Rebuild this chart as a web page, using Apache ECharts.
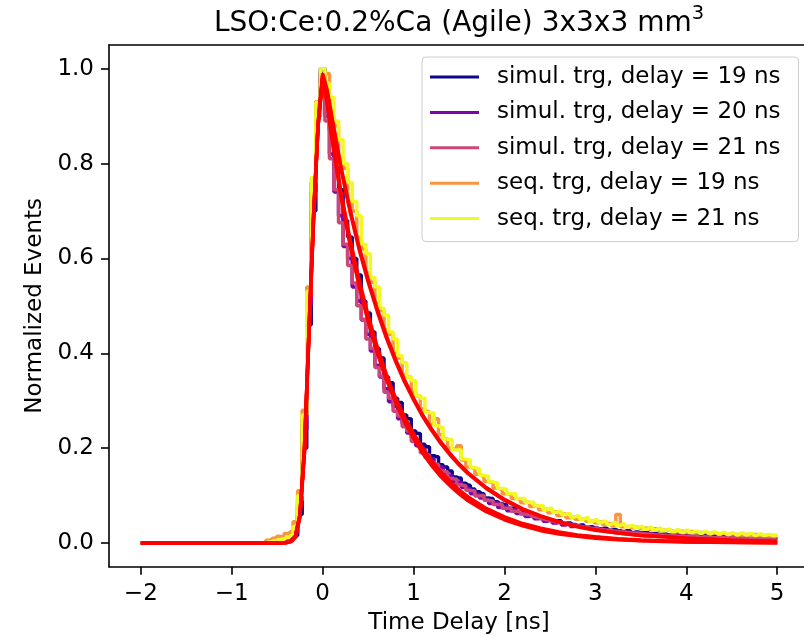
<!DOCTYPE html>
<html><head><meta charset="utf-8">
<script src="https://cdn.jsdelivr.net/npm/echarts@6/dist/echarts.min.js"></script>
<style>html,body{margin:0;padding:0;background:#fff}#c{width:804px;height:636px}</style>
</head><body><div id="c"></div>
<script>
// histogram bin centres (ns)
const xBins = [-2.0, -0.65,
 -0.6,-0.55,-0.5,-0.45,-0.4,-0.35,-0.3,-0.25,-0.2,-0.15,
 -0.1,-0.05,0.0,0.05,0.1,0.15,0.2,0.25,0.3,0.35,
 0.4,0.45,0.5,0.55,0.6,0.65,0.7,0.75,0.8,0.85,
 0.9,0.95,1.0,1.05,1.1,1.15,1.2,1.25,1.3,1.35,
 1.4,1.45,1.5,1.55,1.6,1.65,1.7,1.75,1.8,1.85,
 1.9,1.95,2.0,2.05,2.1,2.15,2.2,2.25,2.3,2.35,
 2.4,2.45,2.5,2.55,2.6,2.65,2.7,2.75,2.8,2.85,
 2.9,2.95,3.0,3.05,3.1,3.15,3.2,3.25,3.3,3.35,
 3.4,3.45,3.5,3.55,3.6,3.65,3.7,3.75,3.8,3.85,
 3.9,3.95,4.0,4.05,4.1,4.15,4.2,4.25,4.3,4.35,
 4.4,4.45,4.5,4.55,4.6,4.65,4.7,4.75,4.8,4.85,
 4.9,4.95,5.0];

const simul19 = [0, 0,
 0,0,0.001,0.002,0.003,0.005,0.015,0.06,0.2,0.46,
 0.7,0.9,1.0,0.94,0.87,0.79,0.745,0.68,0.645,0.6,
 0.565,0.51,0.485,0.445,0.41,0.39,0.35,0.338,0.305,0.296,
 0.27,0.262,0.236,0.231,0.208,0.203,0.184,0.182,0.165,0.16,
 0.152,0.139,0.137,0.126,0.122,0.114,0.108,0.104,0.095,0.094,
 0.087,0.083,0.081,0.073,0.074,0.066,0.069,0.061,0.059,0.057,
 0.053,0.051,0.049,0.046,0.047,0.041,0.042,0.039,0.037,0.038,
 0.033,0.034,0.031,0.03,0.031,0.027,0.028,0.026,0.024,0.026,
 0.022,0.023,0.021,0.022,0.019,0.02,0.018,0.019,0.017,0.016,
 0.017,0.015,0.016,0.014,0.015,0.013,0.015,0.012,0.014,0.012,
 0.013,0.011,0.013,0.011,0.012,0.01,0.012,0.011,0.01,0.011,
 0.01,0.009,0.011];

const simul20 = [0, 0,
 0,0,0.001,0.003,0.004,0.007,0.02,0.08,0.24,0.5,
 0.74,0.93,0.99,0.9,0.82,0.74,0.69,0.625,0.6,0.54,
 0.51,0.47,0.44,0.405,0.375,0.35,0.325,0.298,0.288,0.262,
 0.252,0.232,0.222,0.205,0.199,0.181,0.178,0.162,0.16,0.145,
 0.142,0.13,0.128,0.117,0.115,0.104,0.103,0.095,0.093,0.083,
 0.085,0.075,0.077,0.068,0.07,0.062,0.064,0.056,0.058,0.051,
 0.053,0.046,0.048,0.042,0.044,0.038,0.041,0.035,0.036,0.033,
 0.032,0.03,0.031,0.027,0.028,0.026,0.024,0.025,0.022,0.023,
 0.021,0.02,0.021,0.018,0.019,0.018,0.016,0.018,0.015,0.016,
 0.015,0.014,0.015,0.013,0.013,0.012,0.013,0.011,0.012,0.012,
 0.011,0.011,0.01,0.011,0.01,0.009,0.011,0.009,0.01,0.009,
 0.009,0.01,0.009];

const simul21 = [0, 0,
 0,0,0.002,0.002,0.005,0.008,0.024,0.09,0.26,0.52,
 0.76,0.93,0.98,0.89,0.81,0.745,0.675,0.63,0.585,0.548,
 0.5,0.472,0.43,0.41,0.37,0.352,0.318,0.305,0.278,0.268,
 0.245,0.236,0.214,0.21,0.19,0.186,0.17,0.166,0.152,0.15,
 0.136,0.135,0.123,0.121,0.111,0.11,0.099,0.1,0.09,0.089,
 0.081,0.082,0.073,0.074,0.067,0.067,0.061,0.06,0.056,0.054,
 0.051,0.049,0.047,0.045,0.043,0.041,0.039,0.038,0.036,0.034,
 0.033,0.031,0.03,0.029,0.027,0.027,0.025,0.024,0.023,0.022,
 0.021,0.021,0.019,0.019,0.018,0.017,0.017,0.016,0.015,0.016,
 0.014,0.015,0.013,0.014,0.013,0.012,0.013,0.012,0.011,0.012,
 0.011,0.01,0.011,0.01,0.01,0.01,0.009,0.01,0.009,0.009,
 0.009,0.009,0.008];

const seq19 = [0, 0,
 0.006,0.01,0.014,0.013,0.02,0.024,0.045,0.11,0.28,0.54,
 0.76,0.9,0.97,0.99,0.9,0.88,0.81,0.79,0.72,0.7,
 0.645,0.62,0.57,0.55,0.505,0.49,0.45,0.44,0.4,0.39,
 0.355,0.35,0.318,0.31,0.283,0.277,0.25,0.262,0.228,0.22,
 0.2,0.198,0.205,0.175,0.16,0.158,0.145,0.142,0.13,0.128,
 0.116,0.114,0.104,0.103,0.094,0.093,0.085,0.086,0.077,0.078,
 0.07,0.071,0.064,0.066,0.058,0.061,0.053,0.055,0.05,0.05,
 0.046,0.046,0.042,0.044,0.039,0.041,0.036,0.06,0.034,0.035,
 0.032,0.033,0.03,0.031,0.028,0.03,0.026,0.027,0.027,0.025,
 0.024,0.025,0.022,0.024,0.021,0.022,0.022,0.02,0.021,0.019,
 0.02,0.018,0.019,0.018,0.017,0.018,0.016,0.018,0.016,0.016,
 0.015,0.016,0.015];

const seq21 = [0, 0,
 0.002,0.004,0.006,0.008,0.012,0.016,0.035,0.1,0.27,0.53,
 0.77,0.93,1.0,0.97,0.94,0.89,0.85,0.8,0.76,0.72,
 0.69,0.63,0.61,0.56,0.54,0.495,0.48,0.445,0.43,0.395,
 0.38,0.35,0.342,0.31,0.305,0.275,0.274,0.247,0.244,0.219,
 0.218,0.196,0.196,0.177,0.175,0.159,0.157,0.143,0.141,0.129,
 0.127,0.115,0.114,0.104,0.104,0.094,0.094,0.086,0.086,0.078,
 0.079,0.07,0.073,0.065,0.067,0.06,0.062,0.055,0.057,0.05,
 0.053,0.046,0.049,0.043,0.046,0.039,0.043,0.037,0.04,0.034,
 0.037,0.032,0.035,0.029,0.033,0.028,0.031,0.026,0.029,0.024,
 0.028,0.023,0.027,0.022,0.025,0.021,0.024,0.02,0.023,0.019,
 0.022,0.018,0.021,0.017,0.021,0.017,0.02,0.016,0.019,0.016,
 0.018,0.015,0.017];

// fitted curves (red)
const fitX = [-2,-0.5,-0.4,-0.35,-0.3,-0.25,-0.2,-0.15,-0.1,-0.05,0,0.05,0.1,0.2,0.3,0.4,0.5,0.6,0.7,0.8,0.9,1.0,1.1,1.2,1.3,1.4,1.5,1.6,1.8,2.0,2.2,2.4,2.6,2.8,3.0,3.25,3.5,3.75,4.0,4.5,5.0];
const fitSimul19 = [0,0,0.001,0.003,0.012,0.055,0.19,0.44,0.68,0.88,0.985,0.935,0.86,0.736,0.634,0.546,0.47,0.403,0.347,0.299,0.257,0.221,0.19,0.163,0.14,0.121,0.104,0.089,0.066,0.049,0.036,0.026,0.019,0.014,0.01,0.007,0.0045,0.003,0.002,0.001,0.0005];
const fitSimul20 = [0,0,0.001,0.004,0.015,0.06,0.2,0.45,0.69,0.885,0.98,0.93,0.865,0.742,0.642,0.556,0.48,0.414,0.356,0.307,0.266,0.231,0.2,0.173,0.15,0.13,0.112,0.097,0.073,0.055,0.041,0.031,0.023,0.017,0.013,0.009,0.0065,0.0045,0.0032,0.0016,0.0008];
const fitSimul21 = [0,0,0.001,0.003,0.013,0.058,0.2,0.45,0.69,0.88,0.98,0.925,0.855,0.732,0.63,0.543,0.468,0.402,0.346,0.298,0.257,0.222,0.191,0.165,0.142,0.123,0.106,0.091,0.068,0.051,0.038,0.028,0.021,0.016,0.012,0.008,0.0055,0.004,0.0028,0.0014,0.0007];
const fitSeq19 = [0,0,0.001,0.004,0.014,0.06,0.2,0.45,0.69,0.885,0.985,0.95,0.897,0.79,0.7,0.62,0.551,0.489,0.433,0.384,0.34,0.302,0.267,0.237,0.21,0.186,0.165,0.146,0.115,0.09,0.071,0.056,0.044,0.034,0.027,0.021,0.016,0.013,0.01,0.006,0.003];
const fitSeq21 = [0,0,0.001,0.003,0.012,0.055,0.19,0.44,0.68,0.88,0.99,0.955,0.9,0.795,0.705,0.625,0.556,0.494,0.438,0.388,0.344,0.305,0.27,0.24,0.213,0.189,0.167,0.148,0.117,0.092,0.072,0.057,0.045,0.035,0.028,0.021,0.016,0.013,0.01,0.006,0.003];

const xTicks = [-2,-1,0,1,2,3,4,5];
const yTicks = [0,0.2,0.4,0.6,0.8,1.0];
const seriesNames = ['simul. trg, delay = 19 ns','simul. trg, delay = 20 ns','simul. trg, delay = 21 ns','seq. trg, delay = 19 ns','seq. trg, delay = 21 ns'];
const seriesColors = ['#0d0887','#7e03a8','#cc4778','#f89540','#f0f921'];
const histData = [simul19, simul20, simul21, seq19, seq21];
const fitData = [fitSimul19, fitSimul20, fitSimul21, fitSeq19, fitSeq21];

const FONT = 'DejaVu Sans';
const X_MIN = -2.35, X_MAX = 5.35;   // right part of the axes is cropped at the image edge
const pair = (xs, ys) => xs.map((x, i) => [x, ys[i]]);

const series = [];
histData.forEach((ys, i) => {
  series.push({
    type: 'line', name: seriesNames[i], data: pair(xBins, ys), step: 'middle',
    xAxisIndex: 0, yAxisIndex: 0,
    showSymbol: false, symbol: 'none', color: seriesColors[i],
    lineStyle: { width: 3.5, color: seriesColors[i] }, itemStyle: { color: seriesColors[i] },
    emphasis: { disabled: true }, silent: true
  });
});
fitData.forEach((ys, i) => {
  series.push({
    type: 'line', name: 'fit ' + i, data: pair(fitX, ys),
    xAxisIndex: 0, yAxisIndex: 0,
    showSymbol: false, symbol: 'none', color: '#ff0000',
    lineStyle: { width: 3.5, color: '#ff0000' },
    emphasis: { disabled: true }, silent: true
  });
});

const spine = { show: true, onZero: false, lineStyle: { color: '#000', width: 1.6 } };

const chart = echarts.init(document.getElementById('c'), null, { renderer: 'canvas' });
chart.setOption({
  animation: false,
  backgroundColor: '#ffffff',
  grid: { left: 109, top: 45, width: 700, height: 521.7, show: false, outerBoundsMode: 'none', containLabel: false },
  xAxis: [{
    type: 'value', min: X_MIN, max: X_MAX, position: 'bottom',
    axisLine: spine, splitLine: { show: false },
    axisTick: { show: true, length: 8, lineStyle: { color: '#000', width: 1.6 }, customValues: xTicks },
    axisLabel: { customValues: xTicks, margin: 16, fontFamily: FONT, fontSize: 23, color: '#000',
      formatter: v => (v < 0 ? '\u2212' + Math.abs(v) : String(v)) },
    name: 'Time Delay [ns]', nameLocation: 'middle', nameGap: 45,
    nameTextStyle: { fontFamily: FONT, fontSize: 23, color: '#000' }
  }, {
    type: 'value', min: X_MIN, max: X_MAX, position: 'top',
    axisLine: spine, splitLine: { show: false }, axisTick: { show: false }, axisLabel: { show: false }
  }],
  yAxis: {
    type: 'value', min: -0.05, max: 1.05,
    axisLine: spine, splitLine: { show: false },
    axisTick: { show: true, length: 8, lineStyle: { color: '#000', width: 1.6 }, customValues: yTicks },
    axisLabel: { customValues: yTicks, margin: 15, fontFamily: FONT, fontSize: 23, color: '#000',
      formatter: v => v.toFixed(1) },
    name: 'Normalized Events', nameLocation: 'middle', nameGap: 62,
    nameTextStyle: { fontFamily: FONT, fontSize: 23, color: '#000' }
  },
  legend: {
    data: seriesNames, orient: 'vertical', left: 422, top: 57,
    icon: 'rect', itemWidth: 49, itemHeight: 3, itemGap: 11.4,
    padding: [8, 18, 11, 8], selectedMode: false,
    backgroundColor: 'rgba(255,255,255,0.8)', borderColor: '#cccccc', borderWidth: 1, borderRadius: 4,
    textStyle: { fontFamily: FONT, fontSize: 23, color: '#000', lineHeight: 24, padding: [0, 0, 0, 13] }
  },
  graphic: [{
    type: 'text', x: 459, y: 20.5, silent: true,
    style: {
      text: '{m|LSO:Ce:0.2%Ca (Agile) 3x3x3 mm}{s|3}',
      align: 'center', verticalAlign: 'middle', fill: '#000', fontFamily: FONT, fontSize: 28,
      rich: {
        m: { fontFamily: FONT, fontSize: 28, lineHeight: 34, verticalAlign: 'bottom', fill: '#000' },
        s: { fontFamily: FONT, fontSize: 19.5, lineHeight: 20, verticalAlign: 'top', fill: '#000' }
      }
    }
  }],
  series: series
});
</script>
</body></html>
